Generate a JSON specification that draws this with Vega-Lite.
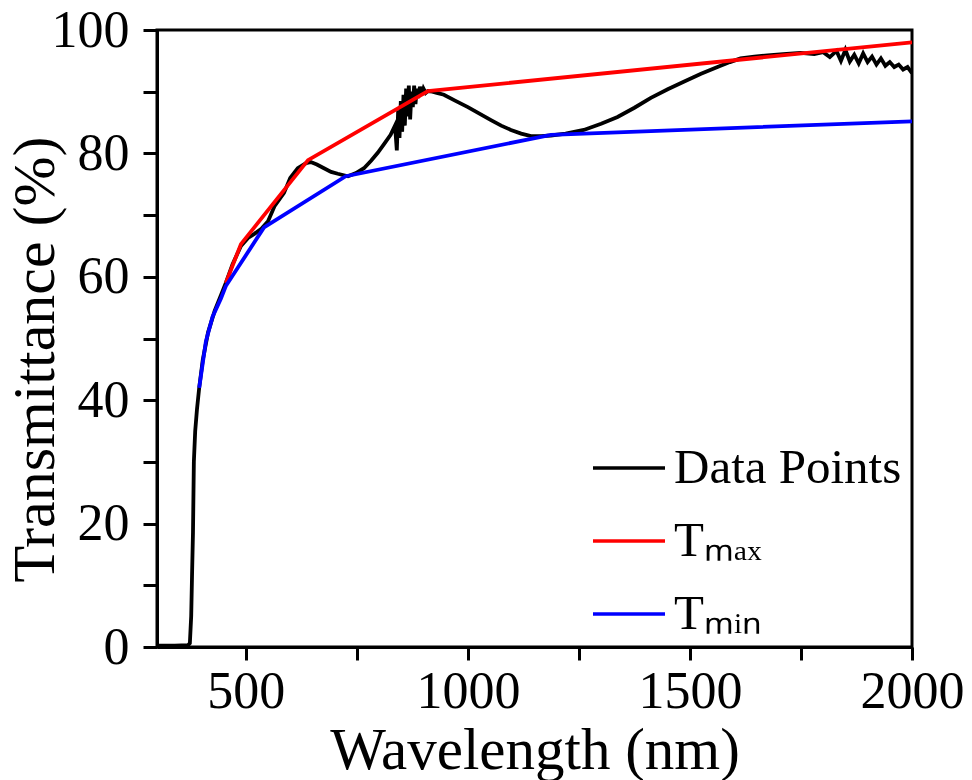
{
  "$schema": "https://vega.github.io/schema/vega-lite/v6.json",
  "autosize": {"type": "none"},
  "width": 755,
  "height": 617,
  "padding": {"left": 157, "top": 30, "right": 60, "bottom": 133},
  "background": "white",
  "config": {
    "font": "Liberation Serif",
    "view": {"stroke": "black", "strokeWidth": 3}
  },
  "datasets": {
    "data": [
      {"wl": 300, "T": 0.2, "s": "Data Points"},
      {"wl": 340, "T": 0.2, "s": "Data Points"},
      {"wl": 370, "T": 0.3, "s": "Data Points"},
      {"wl": 374, "T": 0.6, "s": "Data Points"},
      {"wl": 377, "T": 5, "s": "Data Points"},
      {"wl": 379, "T": 12, "s": "Data Points"},
      {"wl": 381, "T": 18.5, "s": "Data Points"},
      {"wl": 383, "T": 30, "s": "Data Points"},
      {"wl": 386, "T": 35, "s": "Data Points"},
      {"wl": 390, "T": 38.5, "s": "Data Points"},
      {"wl": 395, "T": 42, "s": "Data Points"},
      {"wl": 403, "T": 46.5, "s": "Data Points"},
      {"wl": 415, "T": 51, "s": "Data Points"},
      {"wl": 430, "T": 54.5, "s": "Data Points"},
      {"wl": 444, "T": 57, "s": "Data Points"},
      {"wl": 455, "T": 59, "s": "Data Points"},
      {"wl": 470, "T": 62, "s": "Data Points"},
      {"wl": 489, "T": 65, "s": "Data Points"},
      {"wl": 505, "T": 66.3, "s": "Data Points"},
      {"wl": 520, "T": 67, "s": "Data Points"},
      {"wl": 535, "T": 67.8, "s": "Data Points"},
      {"wl": 550, "T": 69, "s": "Data Points"},
      {"wl": 565, "T": 71.5, "s": "Data Points"},
      {"wl": 586, "T": 73.6, "s": "Data Points"},
      {"wl": 600, "T": 76, "s": "Data Points"},
      {"wl": 617, "T": 77.6, "s": "Data Points"},
      {"wl": 635, "T": 78.4, "s": "Data Points"},
      {"wl": 646, "T": 78.6, "s": "Data Points"},
      {"wl": 660, "T": 78.2, "s": "Data Points"},
      {"wl": 676, "T": 77.6, "s": "Data Points"},
      {"wl": 692, "T": 77, "s": "Data Points"},
      {"wl": 707, "T": 76.7, "s": "Data Points"},
      {"wl": 730, "T": 76.3, "s": "Data Points"},
      {"wl": 748, "T": 76.8, "s": "Data Points"},
      {"wl": 766, "T": 77.6, "s": "Data Points"},
      {"wl": 782, "T": 78.8, "s": "Data Points"},
      {"wl": 797, "T": 80.1, "s": "Data Points"},
      {"wl": 812, "T": 81.6, "s": "Data Points"},
      {"wl": 826, "T": 83, "s": "Data Points"},
      {"wl": 836, "T": 84.5, "s": "Data Points"},
      {"wl": 840, "T": 80.5, "s": "Data Points"},
      {"wl": 843, "T": 87, "s": "Data Points"},
      {"wl": 846, "T": 82.5, "s": "Data Points"},
      {"wl": 849, "T": 88.5, "s": "Data Points"},
      {"wl": 852, "T": 83.5, "s": "Data Points"},
      {"wl": 855, "T": 89.5, "s": "Data Points"},
      {"wl": 858, "T": 84.5, "s": "Data Points"},
      {"wl": 861, "T": 90.5, "s": "Data Points"},
      {"wl": 864, "T": 86, "s": "Data Points"},
      {"wl": 867, "T": 91, "s": "Data Points"},
      {"wl": 870, "T": 85.5, "s": "Data Points"},
      {"wl": 873, "T": 90, "s": "Data Points"},
      {"wl": 876, "T": 87.5, "s": "Data Points"},
      {"wl": 879, "T": 91, "s": "Data Points"},
      {"wl": 882, "T": 88, "s": "Data Points"},
      {"wl": 885, "T": 90.5, "s": "Data Points"},
      {"wl": 888, "T": 89, "s": "Data Points"},
      {"wl": 892, "T": 90.8, "s": "Data Points"},
      {"wl": 896, "T": 89.5, "s": "Data Points"},
      {"wl": 900, "T": 90.5, "s": "Data Points"},
      {"wl": 905, "T": 89.8, "s": "Data Points"},
      {"wl": 910, "T": 90.1, "s": "Data Points"},
      {"wl": 920, "T": 90, "s": "Data Points"},
      {"wl": 930, "T": 89.8, "s": "Data Points"},
      {"wl": 946, "T": 89.5, "s": "Data Points"},
      {"wl": 970, "T": 88.6, "s": "Data Points"},
      {"wl": 1000, "T": 87.5, "s": "Data Points"},
      {"wl": 1025, "T": 86.5, "s": "Data Points"},
      {"wl": 1052, "T": 85.4, "s": "Data Points"},
      {"wl": 1075, "T": 84.5, "s": "Data Points"},
      {"wl": 1097, "T": 83.8, "s": "Data Points"},
      {"wl": 1120, "T": 83.2, "s": "Data Points"},
      {"wl": 1142, "T": 82.8, "s": "Data Points"},
      {"wl": 1165, "T": 82.8, "s": "Data Points"},
      {"wl": 1187, "T": 82.9, "s": "Data Points"},
      {"wl": 1220, "T": 83.2, "s": "Data Points"},
      {"wl": 1261, "T": 83.8, "s": "Data Points"},
      {"wl": 1300, "T": 84.8, "s": "Data Points"},
      {"wl": 1337, "T": 85.9, "s": "Data Points"},
      {"wl": 1375, "T": 87.4, "s": "Data Points"},
      {"wl": 1412, "T": 89, "s": "Data Points"},
      {"wl": 1450, "T": 90.4, "s": "Data Points"},
      {"wl": 1486, "T": 91.6, "s": "Data Points"},
      {"wl": 1525, "T": 92.9, "s": "Data Points"},
      {"wl": 1562, "T": 94, "s": "Data Points"},
      {"wl": 1590, "T": 94.8, "s": "Data Points"},
      {"wl": 1614, "T": 95.4, "s": "Data Points"},
      {"wl": 1645, "T": 95.7, "s": "Data Points"},
      {"wl": 1675, "T": 95.9, "s": "Data Points"},
      {"wl": 1710, "T": 96.1, "s": "Data Points"},
      {"wl": 1749, "T": 96.3, "s": "Data Points"},
      {"wl": 1780, "T": 96.1, "s": "Data Points"},
      {"wl": 1800, "T": 96.4, "s": "Data Points"},
      {"wl": 1815, "T": 95.6, "s": "Data Points"},
      {"wl": 1830, "T": 96.6, "s": "Data Points"},
      {"wl": 1840, "T": 95, "s": "Data Points"},
      {"wl": 1850, "T": 96.8, "s": "Data Points"},
      {"wl": 1860, "T": 94.9, "s": "Data Points"},
      {"wl": 1870, "T": 96, "s": "Data Points"},
      {"wl": 1880, "T": 94.6, "s": "Data Points"},
      {"wl": 1890, "T": 96.2, "s": "Data Points"},
      {"wl": 1900, "T": 94.8, "s": "Data Points"},
      {"wl": 1910, "T": 95.7, "s": "Data Points"},
      {"wl": 1920, "T": 94.4, "s": "Data Points"},
      {"wl": 1930, "T": 95.4, "s": "Data Points"},
      {"wl": 1940, "T": 94.2, "s": "Data Points"},
      {"wl": 1950, "T": 94.8, "s": "Data Points"},
      {"wl": 1960, "T": 94, "s": "Data Points"},
      {"wl": 1970, "T": 94.4, "s": "Data Points"},
      {"wl": 1980, "T": 93.6, "s": "Data Points"},
      {"wl": 1990, "T": 94, "s": "Data Points"},
      {"wl": 2000, "T": 93, "s": "Data Points"},
      {"wl": 455, "T": 59, "s": "Tmax"},
      {"wl": 489, "T": 65.3, "s": "Tmax"},
      {"wl": 640, "T": 78.9, "s": "Tmax"},
      {"wl": 910, "T": 90.1, "s": "Tmax"},
      {"wl": 2000, "T": 98, "s": "Tmax"},
      {"wl": 395, "T": 42, "s": "Tmin"},
      {"wl": 410, "T": 49.5, "s": "Tmin"},
      {"wl": 425, "T": 53.5, "s": "Tmin"},
      {"wl": 444, "T": 56.5, "s": "Tmin"},
      {"wl": 455, "T": 58.5, "s": "Tmin"},
      {"wl": 541, "T": 68, "s": "Tmin"},
      {"wl": 725, "T": 76.3, "s": "Tmin"},
      {"wl": 1187, "T": 83, "s": "Tmin"},
      {"wl": 2000, "T": 85.2, "s": "Tmin"}
    ]
  },
  "data": {"name": "data"},
  "mark": {"type": "line", "strokeWidth": 3.8, "clip": true},
  "encoding": {
    "x": {
      "field": "wl",
      "type": "quantitative",
      "scale": {"domain": [300, 2000], "nice": false, "zero": false},
      "axis": {
        "title": "Wavelength (nm)",
        "values": [500, 750, 1000, 1250, 1500, 1750, 2000],
        "labelExpr": "datum.value % 500 === 0 ? datum.label : ''",
        "format": "d",
        "grid": false,
        "domainColor": "black",
        "domainWidth": 3,
        "tickColor": "black",
        "tickWidth": 3,
        "tickSize": 13,
        "labelFontSize": 52,
        "labelColor": "black",
        "labelPadding": 6,
        "labelFlush": false,
        "labelOverlap": false,
        "titleFontSize": 59,
        "titleFontWeight": "normal",
        "titleColor": "black",
        "titleBaseline": "alphabetic",
        "titleY": 121
      }
    },
    "y": {
      "field": "T",
      "type": "quantitative",
      "scale": {"domain": [0, 100], "nice": false},
      "axis": {
        "title": "Transmittance (%)",
        "values": [0, 10, 20, 30, 40, 50, 60, 70, 80, 90, 100],
        "labelExpr": "datum.value % 20 === 0 ? datum.label : ''",
        "grid": false,
        "domainColor": "black",
        "domainWidth": 3,
        "tickColor": "black",
        "tickWidth": 3,
        "tickSize": 14,
        "labelFontSize": 52,
        "labelColor": "black",
        "labelPadding": 14,
        "labelFlush": false,
        "labelOverlap": false,
        "titleFontSize": 60,
        "titleFontWeight": "normal",
        "titleColor": "black",
        "titleBaseline": "alphabetic",
        "titleX": -104,
        "titleY": 329
      }
    },
    "color": {
      "field": "s",
      "type": "nominal",
      "scale": {"domain": ["Data Points", "Tmax", "Tmin"], "range": ["black", "red", "blue"]},
      "legend": {
        "title": null,
        "orient": "none",
        "legendX": 434,
        "legendY": 400,
        "padding": 0,
        "symbolType": "stroke",
        "symbolSize": 5184,
        "symbolStrokeWidth": 3.5,
        "labelFontSize": 49,
        "labelColor": "black",
        "labelOffset": 7,
        "labelLimit": 400,
        "rowPadding": 10,
        "labelExpr": "datum.label === 'Tmax' ? 'Tₘₐₓ' : datum.label === 'Tmin' ? 'Tₘᵢₙ' : datum.label"
      }
    }
  }
}
